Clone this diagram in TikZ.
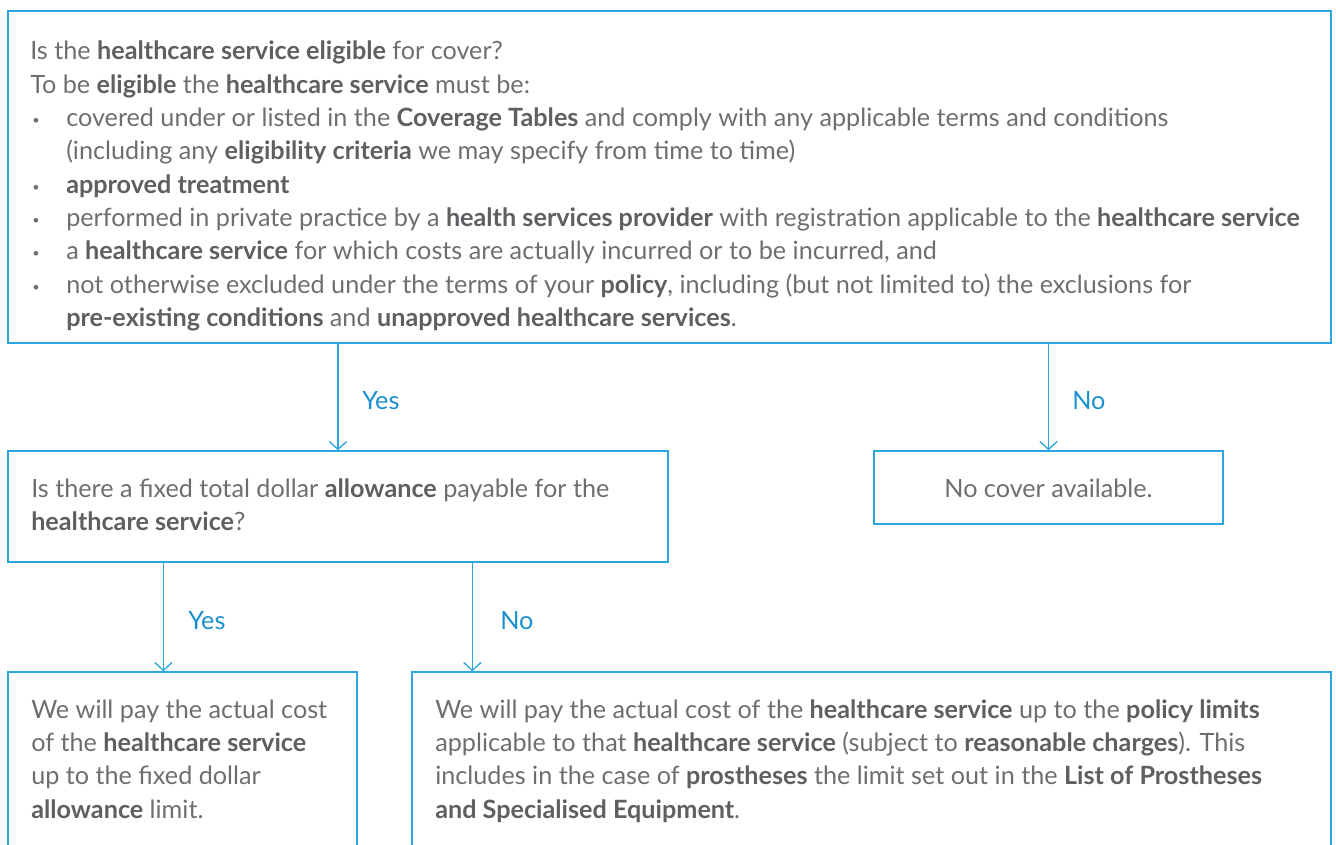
\documentclass[tikz,border=0pt]{standalone}
\usepackage{fontspec}
\setmainfont{Lato}
\usetikzlibrary{arrows.meta,fit,calc}

\definecolor{lineblue}{HTML}{2BA6DE}
\definecolor{labelblue}{HTML}{1A90CE}
\definecolor{bodygrey}{HTML}{6D6E71}
\definecolor{boldgrey}{HTML}{5E5F62}

\newcommand{\kw}[1]{{\bfseries\color{boldgrey}#1}}
\newcommand{\bul}{\makebox[27pt][l]{\hspace{1.5pt}\raisebox{1.5pt}{\scalebox{0.5}{•}}}}
\newcommand{\ind}{\hspace*{27pt}}

\begin{document}
\begin{tikzpicture}[x=0.75pt, y=-0.75pt,
    box/.style={draw=lineblue, line width=1pt, inner sep=0pt},
    txt/.style={anchor=north west, inner sep=0pt, align=left, text=bodygrey, font=\fontsize{18.9}{25}\selectfont},
    lbl/.style={anchor=base west, inner sep=0pt, text=labelblue, font=\fontsize{18.9}{25}\selectfont},
    arr/.style={draw=lineblue, line width=1pt, -{Straight Barb[length=6pt, width=13pt]}}]

    \useasboundingbox (0,0) rectangle (1336,844);
    \clip (0,0) rectangle (1336,844);

    \node[box, fit={(8,11) (1331,343)}] (elig) {};
    \node[box, fit={(8,451) (668,562)}] (allow) {};
    \node[box, fit={(874,451) (1223,524)}] (nocov) {};
    \node[box, fit={(8,672) (357,870)}] (fixed) {};
    \node[box, fit={(412,672) (1331,870)}] (limits) {};

    \node[txt] (eligtxt) at (30,36.2) {\strut Is the \kw{healthcare service eligible} for cover?\\
        To be \kw{eligible} the \kw{healthcare service} must be:\\
        \bul covered under or listed in the \kw{Coverage Tables} and comply with any applicable terms and conditions\\
        \ind(including any \kw{eligibility criteria} we may specify from time to time)\\
        \bul\kw{approved treatment}\\
        \bul performed in private practice by a \kw{health services provider} with registration applicable to the \kw{healthcare service}\\
        \bul a \kw{healthcare service} for which costs are actually incurred or to be incurred, and\\
        \bul not otherwise excluded under the terms of your \kw{policy}, including (but not limited to) the exclusions for\\
        \ind\kw{pre-existing conditions} and \kw{unapproved healthcare services}.};

    \node[txt] (allowtxt) at (31,473.7) {\strut Is there a fixed total dollar \kw{allowance} payable for the\\
        \kw{healthcare service}?};

    \node[txt, anchor=base] (nocovtxt) at (nocov.center |- 0,497) {No cover available.};

    \node[txt] (fixedtxt) at (31,694.7) {\strut We will pay the actual cost\\
        of the \kw{healthcare service}\\
        up to the fixed dollar\\
        \kw{allowance} limit.};

    \node[txt] (limitstxt) at (435,694.7) {\strut We will pay the actual cost of the \kw{healthcare service} up to the \kw{policy limits}\\
        applicable to that \kw{healthcare service} (subject to \kw{reasonable charges}). This\\
        includes in the case of \kw{prostheses} the limit set out in the \kw{List of Prostheses}\\
        \kw{and Specialised Equipment}.};

    \draw[arr] (elig.south -| allow.north) -- (allow.north);
    \draw[arr] (elig.south -| nocov.north) -- (nocov.north);

    \coordinate (yesfork) at ($(allow.south west)+(156,0)$);
    \coordinate (nofork) at ($(allow.south west)+(465,0)$);
    \draw[arr] (yesfork) -- (yesfork |- fixed.north);
    \draw[arr] (nofork) -- (nofork |- limits.north);

    \node[lbl] (yes1) at (362,409) {Yes};
    \node[lbl] (no1) at (1072,409) {No};
    \node[lbl] (yes2) at (188,629) {Yes};
    \node[lbl] (no2) at (500,629) {No};
\end{tikzpicture}
\end{document}
